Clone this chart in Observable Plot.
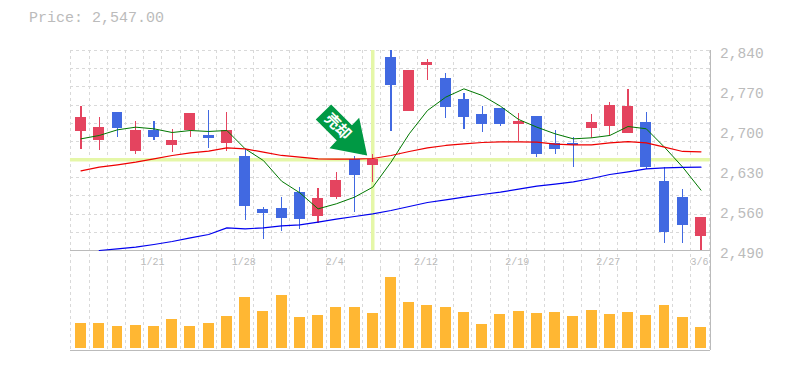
<!DOCTYPE html>
<html><head><meta charset="utf-8">
<script src="https://cdn.jsdelivr.net/npm/d3@7"></script>
<script src="https://cdn.jsdelivr.net/npm/@observablehq/plot@0.6"></script>
<style>
html,body{margin:0;padding:0;background:#fff;width:785px;height:370px;overflow:hidden}
#wrap{position:relative;width:785px;height:370px}
#wrap svg{display:block;position:absolute;left:0;background:transparent;max-width:none}
</style></head><body><div id="wrap"></div>
<script>
const opens  = [2698,2683,2731,2663,2700,2674,2700,2691,2677,2654,2562,2563,2592,2549,2583,2649,2639,2828,2733,2814,2791,2754,2728,2738,2710,2724,2677,2677,2703,2707,2695,2714,2611,2583,2514];
const closes = [2723,2705,2703,2700,2688,2683,2730,2686,2700,2567,2555,2546,2544,2581,2612,2621,2649,2779,2805,2819,2740,2723,2710,2710,2716,2658,2667,2674,2714,2744,2742,2635,2521,2534,2547];
const highs  = [2742,2723,2731,2716,2716,2702,2730,2735,2731,2667,2565,2583,2600,2598,2626,2654,2658,2840,2805,2824,2800,2765,2742,2738,2730,2724,2700,2688,2728,2749,2772,2731,2635,2597,2547];
const lows   = [2667,2665,2688,2658,2683,2662,2688,2668,2663,2542,2509,2523,2527,2537,2579,2556,2609,2698,2733,2788,2721,2702,2696,2707,2681,2653,2658,2635,2686,2690,2695,2632,2502,2502,2490];
const volumes= [25,25,22,23,22,29,22,25,32,51,37,53,31,33,41,41,35,71,46,43,41,36,24,34,37,35,36,32,38,34,36,33,43,31,21];
const ma5    = [2685.4,2691.3,2701.2,2705.8,2702.9,2696.5,2700,2698.3,2700,2668,2647.5,2611.3,2590.9,2562.9,2571.7,2583.3,2600.8,2644.6,2694.2,2735,2758.3,2772.9,2761.3,2742.6,2719.3,2705.8,2694.2,2685.4,2687.2,2691.3,2707,2703,2670.8,2635.8,2595.6];
const ma25   = [2629.4,2635.8,2639.9,2644.6,2650.4,2656.3,2660.9,2663.8,2669.7,2668,2662.1,2656.3,2653.3,2650.4,2649.8,2649.8,2651,2656.3,2663.3,2669.7,2673.8,2676.7,2679,2680.2,2680.2,2679.6,2676.1,2674.9,2674.9,2678.4,2680.7,2678.4,2670.8,2663.3,2662.7];
const ma75   = [null,2490,2492.9,2495.8,2500.5,2505.8,2512.2,2518,2529.7,2527.9,2529.7,2533.2,2534.9,2539.6,2544.8,2549.5,2554.2,2560,2567,2574,2578.7,2583.3,2588,2592.1,2597.3,2602.6,2606.1,2610.2,2616,2623,2627.7,2633,2634.7,2635.3,2635.8];
const priceTicks = [2840,2770,2700,2630,2560,2490];
const dateTicks  = [[4,"1/21"],[9,"1/28"],[14,"2/4"],[19,"2/12"],[24,"2/19"],[29,"2/27"],[34,"3/6"]];
const priceText = "Price: 2,547.00";
const markerIndex = 16, markerPrice = 2649, markerLabel = "売却";

const idx = d3.range(opens.length);
const gridX = [-0.58, ...idx.map(i=>i+0.44)];
const gridY = d3.range(0,12).map(k=>2840-350*k/11);
const GRAY="#bbbbbb", GRID="#d9d9d9", HI="#e5f7a8", RED="#e4445f", BLUE="#4169e1", VOL="#ffb733";
const MONO="'Liberation Mono',monospace";
const xOpt={type:"linear",domain:[-0.5,34.5],range:[71.4,709.6],axis:null};
const up=i=>closes[i]>=opens[i];
const col=i=>up(i)?RED:BLUE;
const arrow={draw(c){ // pixel offsets from the tip of the arrow
  c.moveTo(0,0);c.lineTo(-37.7,-7.3);c.lineTo(-30.4,-15);c.lineTo(-51.4,-36);c.lineTo(-36,-51);c.lineTo(-15.2,-30.2);c.lineTo(-8,-37.7);c.closePath();
}};

const priceChart=Plot.plot({width:785,height:268,marginTop:50,marginBottom:18,marginLeft:0,marginRight:0,
  style:{background:"transparent"},
  x:xOpt,
  y:{domain:[2490,2840],range:[250,50],axis:null},
  marks:[
    Plot.ruleX(gridX,{x:d=>d,y1:2840,y2:2490-18*1.75,stroke:GRID,strokeDasharray:"3,3",shapeRendering:"crispEdges"}),
    Plot.ruleY(gridY,{y:d=>d,x1:-0.58,x2:34.5,stroke:GRID,strokeDasharray:"3,3",shapeRendering:"crispEdges"}),
    Plot.ruleY([markerPrice],{x1:-0.58,x2:34.5,stroke:HI,strokeWidth:3.5}),
    Plot.ruleX([markerIndex],{y1:2840,y2:2490,stroke:HI,strokeWidth:3.5}),
    Plot.ruleY([2490],{x1:-0.58,x2:34.5,stroke:GRAY,strokeWidth:1,shapeRendering:"crispEdges"}),
    Plot.ruleX([34.5],{y1:2840,y2:2490-18*1.75,stroke:GRAY,strokeWidth:1,shapeRendering:"crispEdges"}),
    Plot.ruleX(idx,{x:d=>d,y1:i=>lows[i],y2:i=>highs[i],stroke:col,strokeWidth:1.2,shapeRendering:"crispEdges"}),
    Plot.rect(idx,{x1:i=>i-0.3,x2:i=>i+0.3,y1:i=>opens[i],y2:i=>closes[i],fill:col,shapeRendering:"crispEdges"}),
    Plot.line(idx,{x:d=>d,y:i=>ma5[i],stroke:"#007700",strokeWidth:1,curve:"linear"}),
    Plot.line(idx,{x:d=>d,y:i=>ma25[i],stroke:"#ee0000",strokeWidth:1.2,curve:"linear"}),
    Plot.line(idx.slice(1),{x:d=>d,y:i=>ma75[i],stroke:"#0000ee",strokeWidth:1.2,curve:"linear"}),
    Plot.dot([markerIndex],{x:d=>d,y:()=>markerPrice,r:10,symbol:arrow,fill:"#009944",stroke:"none",dx:-5.6,dy:-4.1}),
    Plot.text([markerLabel],{x:()=>markerIndex,y:()=>markerPrice,text:d=>d,rotate:45,dx:-35,dy:-33,fill:"#fff",fontSize:15,fontWeight:"bold",fontFamily:"'Noto Sans CJK JP'"}),
    Plot.text(priceTicks,{x:()=>34.5,y:d=>d,dx:10,dy:3,text:d=>d3.format(",")(d),textAnchor:"start",fontFamily:MONO,fontSize:14.5,fill:GRAY}),
    Plot.text(dateTicks,{x:d=>d[0],y:()=>2490,dx:-1.5,dy:11,text:d=>d[1],fontFamily:MONO,fontSize:10,fill:GRAY}),
    Plot.text([priceText],{x:()=>-0.5,y:()=>2840,text:d=>d,dx:-43,dy:-33,textAnchor:"start",fontFamily:MONO,fontSize:15,fill:GRAY})
  ]});
priceChart.style.top="0px";
const volumeChart=Plot.plot({width:785,height:102,marginTop:0,marginBottom:22,marginLeft:0,marginRight:0,
  style:{background:"transparent"},
  x:xOpt,
  y:{domain:[0,80],range:[80,0],axis:null},
  marks:[
    Plot.ruleX(gridX,{x:d=>d,y1:80,y2:-2,stroke:GRID,strokeDasharray:"3,3",shapeRendering:"crispEdges"}),
    Plot.rect(idx,{x1:i=>i-0.3,x2:i=>i+0.3,y1:0,y2:i=>volumes[i],fill:VOL,shapeRendering:"crispEdges"}),
    Plot.ruleY([-2],{x1:-0.58,x2:34.5,stroke:GRAY,strokeWidth:1,shapeRendering:"crispEdges"}),
    Plot.ruleX([34.5],{y1:80,y2:-2,stroke:GRAY,strokeWidth:1,shapeRendering:"crispEdges"})
  ]});
volumeChart.style.top="268px";
document.getElementById("wrap").append(priceChart,volumeChart);
</script></body></html>
